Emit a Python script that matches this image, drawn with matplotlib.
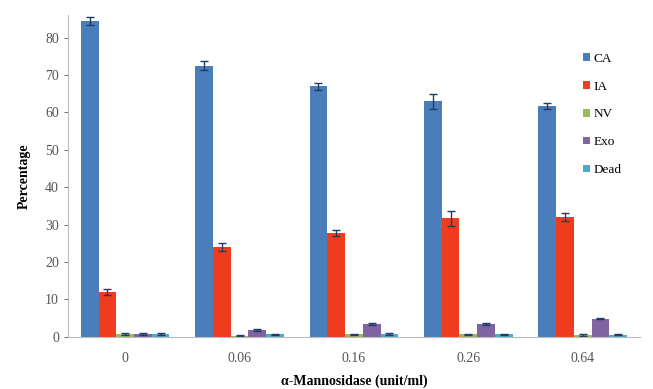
import numpy as np
from matplotlib import pyplot as plt

doses = ['0', '0.06', '0.16', '0.26', '0.64']
series = ['CA', 'IA', 'NV', 'Exo', 'Dead']
ca = [84.5, 72.5, 67.0, 63.0, 61.7]
ia = [12.0, 24.0, 27.7, 31.7, 32.0]
nv = [0.8, 0.3, 0.7, 0.7, 0.5]
exo = [0.8, 1.8, 3.5, 3.4, 4.9]
dead = [0.8, 0.7, 0.8, 0.7, 0.6]
ca_err = [1.0, 1.2, 1.0, 2.0, 0.8]
ia_err = [0.8, 1.0, 0.8, 2.0, 1.0]
small_err = [0.2, 0.2, 0.2, 0.2, 0.2]

colors = ['#4a7ebb', '#f03c1e', '#9bbb59', '#8064a2', '#4bacc6']

plt.rcParams['font.family'] = ['Liberation Serif', 'DejaVu Serif']

fig = plt.figure(figsize=(6.53, 3.89), dpi=100)
ax = fig.add_axes([0.104, 0.134, 0.876, 0.827])

values = [ca, ia, nv, exo, dead]
errors = [ca_err, ia_err, small_err, small_err, small_err]
x = np.arange(len(doses))
width = 0.155
for i, (vals, errs) in enumerate(zip(values, errors)):
    ax.bar(x + (i - 2) * width, vals, width, color=colors[i], label=series[i],
           yerr=errs, error_kw=dict(ecolor='#1f3b66', elinewidth=1, capsize=3, capthick=1))

ax.set_xlim(-0.5, len(doses) - 0.5)
ax.set_ylim(0, 86)
ax.set_yticks(range(0, 90, 10))
ax.set_xticks(x)
ax.set_xticklabels(doses)
ax.tick_params(axis='both', labelsize=10, colors='#555555', length=3, width=0.6)
ax.tick_params(axis='x', length=0, pad=11)

for side in ['top', 'right']:
    ax.spines[side].set_visible(False)
for side in ['left', 'bottom']:
    ax.spines[side].set_color('#bbbbbb')
    ax.spines[side].set_linewidth(0.8)

ax.set_ylabel('Percentage', fontsize=10, fontweight='bold', labelpad=10)
ax.set_xlabel('\u03b1-Mannosidase (unit/ml)', fontsize=10, fontweight='bold', labelpad=7)

ax.legend(loc='upper left', bbox_to_anchor=(0.88, 0.92), frameon=False, fontsize=9.5,
          handlelength=0.5, handleheight=0.5, handletextpad=0.3, labelspacing=1.2)

fig.savefig('out.png', dpi=100)
